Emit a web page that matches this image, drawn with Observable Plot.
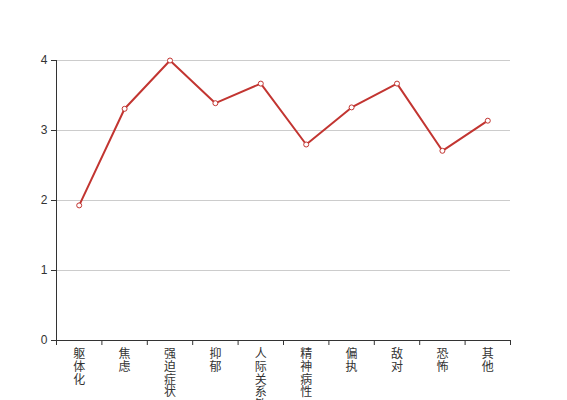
<!DOCTYPE html>
<html><head><meta charset="utf-8">
<script src="https://cdn.jsdelivr.net/npm/d3@7"></script>
<script src="https://cdn.jsdelivr.net/npm/@observablehq/plot@0.6"></script>
<style>
body{margin:0;background:#fff;}
#chart svg{font-family:"Liberation Sans","Noto Sans CJK SC",sans-serif;}
</style>
</head><body><div id="chart"></div>
<script>
const categories = ["躯体化","焦虑","强迫症状","抑郁","人际关系敏感","精神病性","偏执","敌对","恐怖","其他"];
const values = [1.93, 3.31, 4.0, 3.39, 3.67, 2.80, 3.33, 3.67, 2.71, 3.14];
const yTicks = [0, 1, 2, 3, 4];

const data = categories.map((c, i) => ({cat: c, pos: i + 0.5, value: values[i]}));
const boundaries = d3.range(categories.length + 1);
const centers = categories.map((c, i) => i + 0.5);

const chart = Plot.plot({
  width: 567,
  height: 400,
  marginLeft: 56,
  marginRight: 57,
  marginTop: 60,
  marginBottom: 60,
  style: {fontSize: "12px", color: "#333", background: "#fff"},
  x: {domain: [0, categories.length], axis: null},
  y: {domain: [0, 4], axis: null},
  marks: [
    Plot.gridY(yTicks.filter(d => d > 0), {stroke: "#ccc", strokeOpacity: 1}),
    Plot.axisY({ticks: yTicks, tickSize: 5, tickPadding: 4, tickFormat: d3.format("d"), stroke: "#333", fill: "#333", fontSize: 12, label: null}),
    Plot.ruleX([0], {stroke: "#333"}),
    Plot.ruleY([0], {stroke: "#333"}),
    Plot.axisX({ticks: boundaries, tickSize: 5, tickFormat: () => "", stroke: "#333", label: null}),
    Plot.axisX({ticks: centers, tickSize: 0, tickPadding: 9, label: null, fill: "#333", fontSize: 12, lineHeight: 1.05,
      tickFormat: p => categories[Math.round(p - 0.5)].split("").join("\n")}),
    Plot.line(data, {x: "pos", y: "value", stroke: "#c23531", strokeWidth: 2}),
    Plot.dot(data, {x: "pos", y: "value", r: 2.5, fill: "#fff", stroke: "#c23531", strokeWidth: 1})
  ]
});
document.getElementById("chart").appendChild(chart);
</script>
</body></html>
